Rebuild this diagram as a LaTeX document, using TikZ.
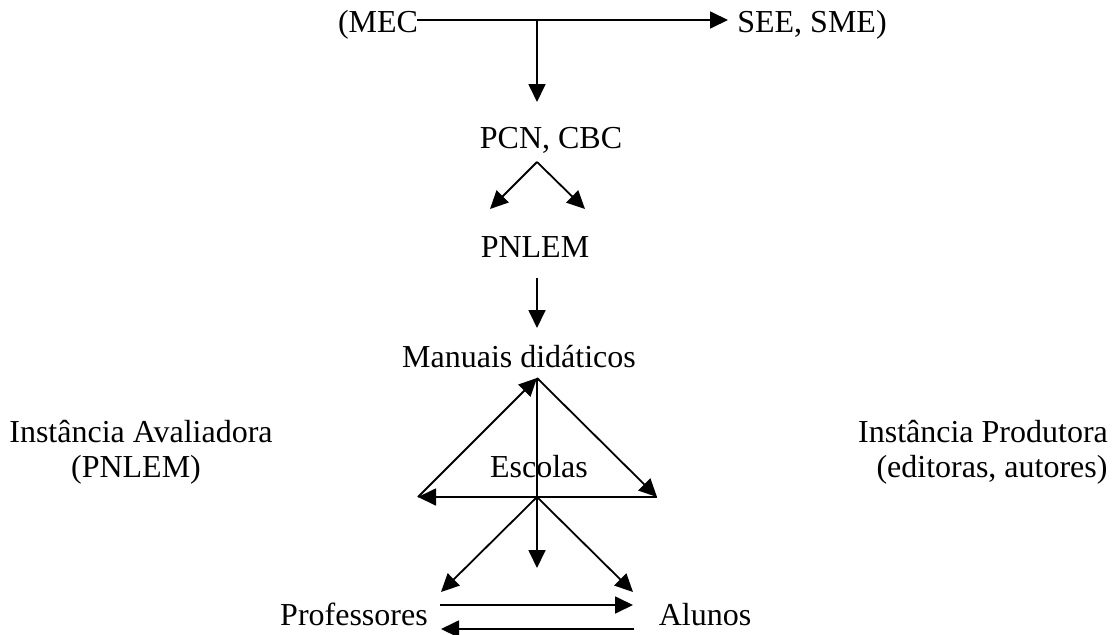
\documentclass[tikz,border=0pt]{standalone}
\usepackage{fontspec}
\setmainfont{Liberation Serif}
\usetikzlibrary{arrows.meta}

\begin{document}
\begin{tikzpicture}[->,>={Triangle[length=18pt 0 0,width=17pt 0 0]},x=1pt,y=-1pt,
		                    line width=1.8pt,
		                    txt/.style={font=\fontsize{32}{36}\selectfont,inner sep=0pt,anchor=base}]
		  \useasboundingbox (0,0) rectangle (1115,634);
		  %\fill[white] (0,0) rectangle (1115,634);
		
		  \node[txt] (MEC)    at (378,33)  {(MEC};
		  \node[txt] (SEE)    at (812,33)  {SEE, SME)};
		  \node[txt] (PCN)    at (551,148) {PCN, CBC};
		  \node[txt] (PNLEM)  at (535,257) {PNLEM};
		  \node[txt] (Man)    at (519,367) {Manuais didáticos};
		  \node[txt] (Esc)    at (539,477) {Escolas};
		  \node[txt] (Prof)   at (354,625) {Professores};
		  \node[txt] (Alu)    at (705,625) {Alunos};
		  \node[txt] (Aval)   at (141,442) {Instância Avaliadora};
		  \node[txt] (AvalP)  at (136,477) {(PNLEM)};
		  \node[txt] (Prod)   at (983,442) {Instância Produtora};
		  \node[txt] (ProdE)  at (992,477) {(editoras, autores)};
		
		  \coordinate (top)   at (537,20);
		  \coordinate (mecR)  at (417,20);
		  \coordinate (seeL)  at (728,20);
		  \coordinate (pcnT)  at (537,102);
		  \coordinate (vTop)  at (537,162);
		  \coordinate (vL)    at (490,209);
		  \coordinate (vR)    at (585,209);
		  \coordinate (pnB)   at (537,278);
		  \coordinate (manT)  at (537,328);
		  \coordinate (apex)  at (537,378);
		  \coordinate (bL)    at (418,497);
		  \coordinate (bC)    at (537,497);
		  \coordinate (bR)    at (657,497);
		  \coordinate (pL)    at (441,592);
		  \coordinate (pC)    at (537,568);
		  \coordinate (pR)    at (633,592);
		  \coordinate (h1L)   at (440,605);
		  \coordinate (h1R)   at (633,605);
		  \coordinate (h2L)   at (441,629);
		  \coordinate (h2R)   at (634,629);
		
		  \path (mecR) edge (seeL)
		        (top) edge (pcnT)
		        (vTop) edge (vL)
		        (vTop) edge (vR)
		        (pnB) edge (manT)
		        (bL) edge (apex)
		        (apex) edge (bR)
		        (apex) edge [-] (bC)
		        (bR) edge (bL)
		        (bC) edge (pL)
		        (bC) edge (pC)
		        (bC) edge (pR)
		        (h1L) edge (h1R)
		        (h2R) edge (h2L);
		\end{tikzpicture}
\end{document}
